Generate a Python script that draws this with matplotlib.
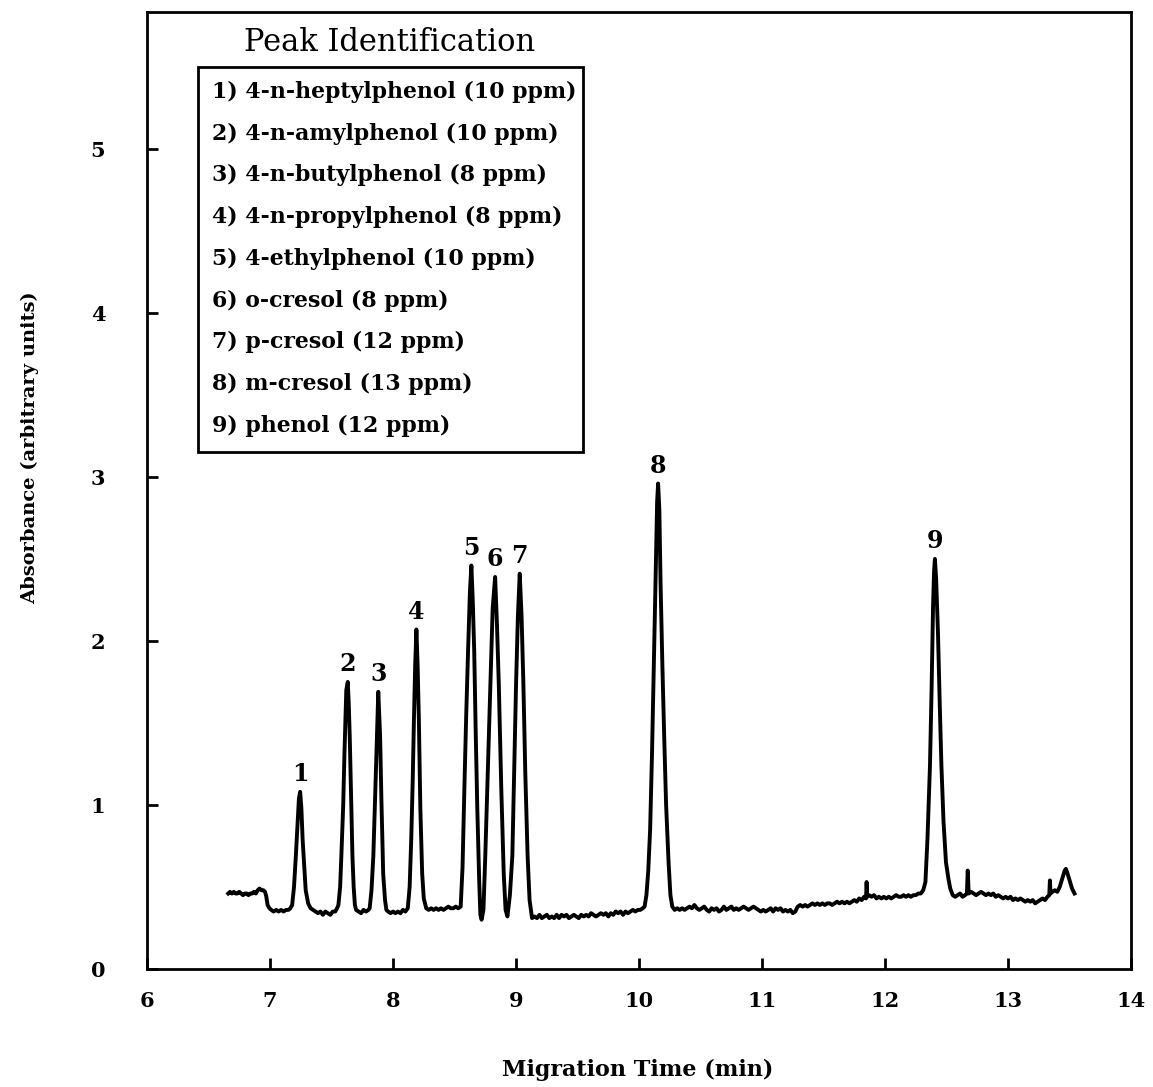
import numpy as np
import matplotlib.pyplot as plt

# electropherogram trace (time in min, absorbance)
time_min = [
    6.66, 6.675, 6.69, 6.705, 6.72, 6.735, 6.75, 6.765, 6.78, 6.795, 6.81, 6.825, 6.84, 6.855, 6.87, 6.885, 6.90, 6.915, 6.93, 6.945, 6.96,
    6.97, 6.98, 6.995, 7.01, 7.03, 7.05, 7.07, 7.09, 7.11, 7.13, 7.15, 7.165,
    7.18, 7.195, 7.21, 7.225, 7.235, 7.245, 7.255, 7.265, 7.28, 7.29, 7.31, 7.33,
    7.35, 7.37, 7.39, 7.41, 7.43, 7.45, 7.47, 7.49, 7.51, 7.53, 7.545,
    7.556, 7.57, 7.58, 7.595, 7.605, 7.62, 7.632, 7.64, 7.648, 7.66, 7.67, 7.68, 7.69, 7.70,
    7.72, 7.74, 7.76, 7.78, 7.80,
    7.81, 7.825, 7.84, 7.855, 7.865, 7.88, 7.895, 7.905, 7.92, 7.935, 7.946,
    7.96, 7.98, 8.00, 8.02, 8.04, 8.06, 8.08, 8.10, 8.12,
    8.135, 8.148, 8.16, 8.17, 8.18, 8.19, 8.20, 8.21, 8.222, 8.237, 8.25, 8.27,
    8.29, 8.31, 8.33, 8.35, 8.37, 8.39, 8.41, 8.43, 8.45, 8.47, 8.49, 8.51, 8.53,
    8.55, 8.565, 8.58, 8.595, 8.61, 8.625, 8.637, 8.648, 8.66, 8.672, 8.685, 8.70, 8.71, 8.72, 8.735,
    8.75, 8.77, 8.79, 8.81, 8.83, 8.845, 8.86, 8.88, 8.90, 8.915, 8.93, 8.95,
    8.97, 8.985, 9.00, 9.015, 9.03, 9.045, 9.06, 9.075, 9.094, 9.11, 9.13,
    9.15, 9.17, 9.19, 9.21, 9.23, 9.25, 9.27, 9.29, 9.31, 9.33, 9.35, 9.37, 9.39, 9.41, 9.43, 9.45, 9.47, 9.49,
    9.51, 9.53, 9.55, 9.57, 9.59, 9.61, 9.63, 9.65, 9.67, 9.69, 9.71, 9.73, 9.75, 9.77, 9.79, 9.81, 9.83, 9.85,
    9.87, 9.89, 9.91, 9.93, 9.95, 9.97, 9.99, 10.01, 10.03, 10.045,
    10.06, 10.075, 10.09, 10.105, 10.12, 10.135, 10.147, 10.155, 10.165, 10.175, 10.19, 10.205, 10.22, 10.24, 10.255, 10.27,
    10.29, 10.31, 10.33, 10.35, 10.37, 10.39, 10.41, 10.43, 10.45, 10.47, 10.49, 10.51, 10.53, 10.55, 10.57, 10.59,
    10.61, 10.63, 10.65, 10.67, 10.69, 10.71, 10.73, 10.75, 10.77, 10.79, 10.81, 10.83, 10.85, 10.87, 10.89, 10.91,
    10.93, 10.95, 10.97, 10.99, 11.01, 11.03, 11.05, 11.07, 11.09, 11.11, 11.13, 11.15, 11.17, 11.19, 11.21, 11.23,
    11.25, 11.27, 11.29, 11.31, 11.33, 11.35, 11.37, 11.39, 11.41, 11.43, 11.45, 11.47, 11.49, 11.51, 11.53, 11.55,
    11.57, 11.59, 11.61, 11.63, 11.65, 11.67, 11.69, 11.71, 11.73, 11.75, 11.77, 11.79, 11.81, 11.83, 11.845, 11.85,
    11.855, 11.87, 11.89, 11.91, 11.93, 11.95, 11.97, 11.99, 12.01, 12.03, 12.05, 12.07, 12.09, 12.11, 12.13, 12.15,
    12.17, 12.19, 12.21, 12.23, 12.25, 12.27, 12.29, 12.31,
    12.328, 12.345, 12.365, 12.378, 12.39, 12.398, 12.405, 12.415, 12.43, 12.445, 12.458, 12.475, 12.495, 12.515, 12.53,
    12.55, 12.57, 12.59, 12.61, 12.63, 12.65, 12.665, 12.672, 12.68, 12.70, 12.72, 12.74, 12.76, 12.78, 12.80, 12.82,
    12.84, 12.86, 12.88, 12.90, 12.92, 12.94, 12.96, 12.98, 13.00, 13.02, 13.04, 13.06, 13.08, 13.10, 13.12, 13.14,
    13.16, 13.18, 13.20, 13.22, 13.24, 13.26, 13.28, 13.30, 13.32, 13.335, 13.34, 13.345, 13.36, 13.38, 13.40, 13.42,
    13.44, 13.46, 13.47, 13.48, 13.50, 13.52, 13.54,
]
absorbance = [
    0.46, 0.47, 0.46, 0.47, 0.46, 0.46, 0.47, 0.46, 0.45, 0.46, 0.46, 0.45, 0.46, 0.46, 0.47, 0.46, 0.48, 0.49, 0.48, 0.48, 0.47,
    0.44, 0.39, 0.37, 0.36, 0.35, 0.36, 0.35, 0.36, 0.35, 0.36, 0.36, 0.37,
    0.39, 0.50, 0.69, 0.90, 1.04, 1.08, 0.98, 0.79, 0.60, 0.48, 0.40, 0.37,
    0.36, 0.35, 0.34, 0.35, 0.33, 0.35, 0.34, 0.33, 0.35, 0.35, 0.37,
    0.39, 0.50, 0.69, 1.00, 1.31, 1.70, 1.75, 1.62, 1.42, 1.02, 0.69, 0.50, 0.39, 0.36,
    0.35, 0.34, 0.36, 0.35, 0.36,
    0.37, 0.48, 0.69, 1.05, 1.31, 1.69, 1.42, 1.05, 0.58, 0.42, 0.36,
    0.35, 0.34, 0.35, 0.34, 0.35, 0.34, 0.36, 0.35, 0.37,
    0.50, 0.79, 1.15, 1.52, 1.85, 2.07, 1.85, 1.52, 0.98, 0.58, 0.43, 0.37,
    0.36, 0.37, 0.36, 0.37, 0.36, 0.37, 0.36, 0.37, 0.38, 0.37, 0.37, 0.38, 0.37,
    0.38, 0.62, 1.10, 1.55, 1.94, 2.30, 2.46, 2.25, 1.94, 1.45, 0.98, 0.55, 0.33, 0.30, 0.36,
    0.69, 1.20, 1.73, 2.20, 2.39, 2.10, 1.73, 1.10, 0.58, 0.36, 0.32, 0.45,
    0.69, 1.20, 1.73, 2.15, 2.41, 2.15, 1.73, 1.20, 0.69, 0.42, 0.31,
    0.32, 0.31, 0.33, 0.31, 0.32, 0.33, 0.31, 0.32, 0.31, 0.33, 0.31, 0.33, 0.32, 0.33, 0.31, 0.32, 0.33, 0.32,
    0.31, 0.33, 0.32, 0.33, 0.32, 0.34, 0.33, 0.32, 0.33, 0.34, 0.33, 0.34, 0.32, 0.34, 0.33, 0.35, 0.34, 0.35,
    0.33, 0.35, 0.34, 0.35, 0.36, 0.35, 0.36, 0.36, 0.37, 0.38,
    0.45, 0.60, 0.85, 1.30, 1.84, 2.40, 2.85, 2.96, 2.80, 2.35, 1.84, 1.40, 1.00, 0.65, 0.45, 0.38,
    0.36, 0.37, 0.36, 0.37, 0.36, 0.37, 0.38, 0.37, 0.39, 0.37, 0.36, 0.37, 0.38, 0.36, 0.35, 0.37,
    0.36, 0.37, 0.35, 0.36, 0.38, 0.36, 0.37, 0.38, 0.36, 0.37, 0.36, 0.37, 0.38, 0.37, 0.36, 0.37,
    0.38, 0.37, 0.36, 0.35, 0.36, 0.35, 0.36, 0.37, 0.35, 0.37, 0.36, 0.37, 0.35, 0.36, 0.35, 0.36,
    0.34, 0.35, 0.38, 0.39, 0.38, 0.39, 0.38, 0.39, 0.40, 0.39, 0.40, 0.39, 0.40, 0.39, 0.40, 0.40,
    0.39, 0.40, 0.41, 0.40, 0.41, 0.40, 0.41, 0.40, 0.41, 0.42, 0.41, 0.43, 0.42, 0.44, 0.43, 0.53,
    0.44, 0.45, 0.44, 0.45, 0.43, 0.44, 0.43, 0.44, 0.43, 0.44, 0.43, 0.44, 0.45, 0.44, 0.44, 0.45,
    0.44, 0.45, 0.44, 0.45, 0.45, 0.46, 0.46, 0.48,
    0.53, 0.80, 1.24, 1.70, 2.21, 2.42, 2.50, 2.38, 2.05, 1.60, 1.24, 0.90, 0.65, 0.55, 0.49,
    0.45, 0.44, 0.45, 0.46, 0.44, 0.45, 0.46, 0.60, 0.46, 0.47, 0.46, 0.45, 0.46, 0.47, 0.46, 0.45,
    0.46, 0.45, 0.46, 0.44, 0.45, 0.44, 0.43, 0.44, 0.43, 0.44, 0.42, 0.43, 0.42, 0.43, 0.42, 0.41,
    0.42, 0.41, 0.42, 0.40, 0.41, 0.42, 0.43, 0.42, 0.44, 0.45, 0.54, 0.46, 0.47, 0.48, 0.47, 0.50,
    0.55, 0.60, 0.61, 0.59, 0.54, 0.49, 0.46,
]

peak_ids = ['1', '2', '3', '4', '5', '6', '7', '8', '9']
peak_times = [7.245, 7.632, 7.88, 8.19, 8.637, 8.83, 9.03, 10.155, 12.405]
peak_heights = [1.08, 1.75, 1.69, 2.07, 2.46, 2.39, 2.41, 2.96, 2.50]

legend_title = 'Peak Identification'
legend_entries = [
    '1) 4-n-heptylphenol (10 ppm)',
    '2) 4-n-amylphenol (10 ppm)',
    '3) 4-n-butylphenol (8 ppm)',
    '4) 4-n-propylphenol (8 ppm)',
    '5) 4-ethylphenol (10 ppm)',
    '6) o-cresol (8 ppm)',
    '7) p-cresol (12 ppm)',
    '8) m-cresol (13 ppm)',
    '9) phenol (12 ppm)',
]

x_ticks = [6, 7, 8, 9, 10, 11, 12, 13, 14]
y_ticks = [0, 1, 2, 3, 4, 5]

plt.rcParams['font.family'] = 'DejaVu Serif'

fig = plt.figure(figsize=(11.53, 10.87), dpi=100)
ax = fig.add_axes([0.1275, 0.1086, 0.8535, 0.8804])

ax.plot(time_min, absorbance, color='black', linewidth=2.8, solid_joinstyle='round')

for pid, pt, ph in zip(peak_ids, peak_times, peak_heights):
    ax.annotate(pid, (pt, ph), xytext=(0, 4), textcoords='offset points',
                ha='center', va='bottom', fontsize=17, fontweight='bold')

ax.set_xlim(6, 14)
ax.set_ylim(0, 5.835)
ax.set_xticks(x_ticks)
ax.set_yticks(y_ticks)
ax.tick_params(direction='in', length=8, width=2, labelsize=15, top=False, right=False)
ax.tick_params(axis='y', pad=30)
ax.tick_params(axis='x', pad=16)
for lab in ax.get_xticklabels() + ax.get_yticklabels():
    lab.set_fontweight('bold')
for sp in ax.spines.values():
    sp.set_linewidth(2)

ax.set_xlabel('Migration Time (min)', fontsize=16, fontweight='bold')
ax.set_ylabel('Absorbance (arbitrary units)', fontsize=14, fontweight='bold')
ax.xaxis.set_label_coords(0.499, -0.094)
ax.yaxis.set_label_coords(-0.11, 0.545)

# legend box with title above
box = plt.Rectangle((0.052, 0.540), 0.391, 0.403, transform=ax.transAxes,
                    fill=False, edgecolor='black', linewidth=2)
ax.add_patch(box)
ax.text(0.247, 0.9676, legend_title, transform=ax.transAxes, ha='center', va='center', fontsize=22)
for i, entry in enumerate(legend_entries):
    ax.text(0.066, 0.9164 - i * 0.0436, entry, transform=ax.transAxes,
            ha='left', va='center', fontsize=15.8, fontweight='bold')

fig.savefig('out.png', dpi=100)
